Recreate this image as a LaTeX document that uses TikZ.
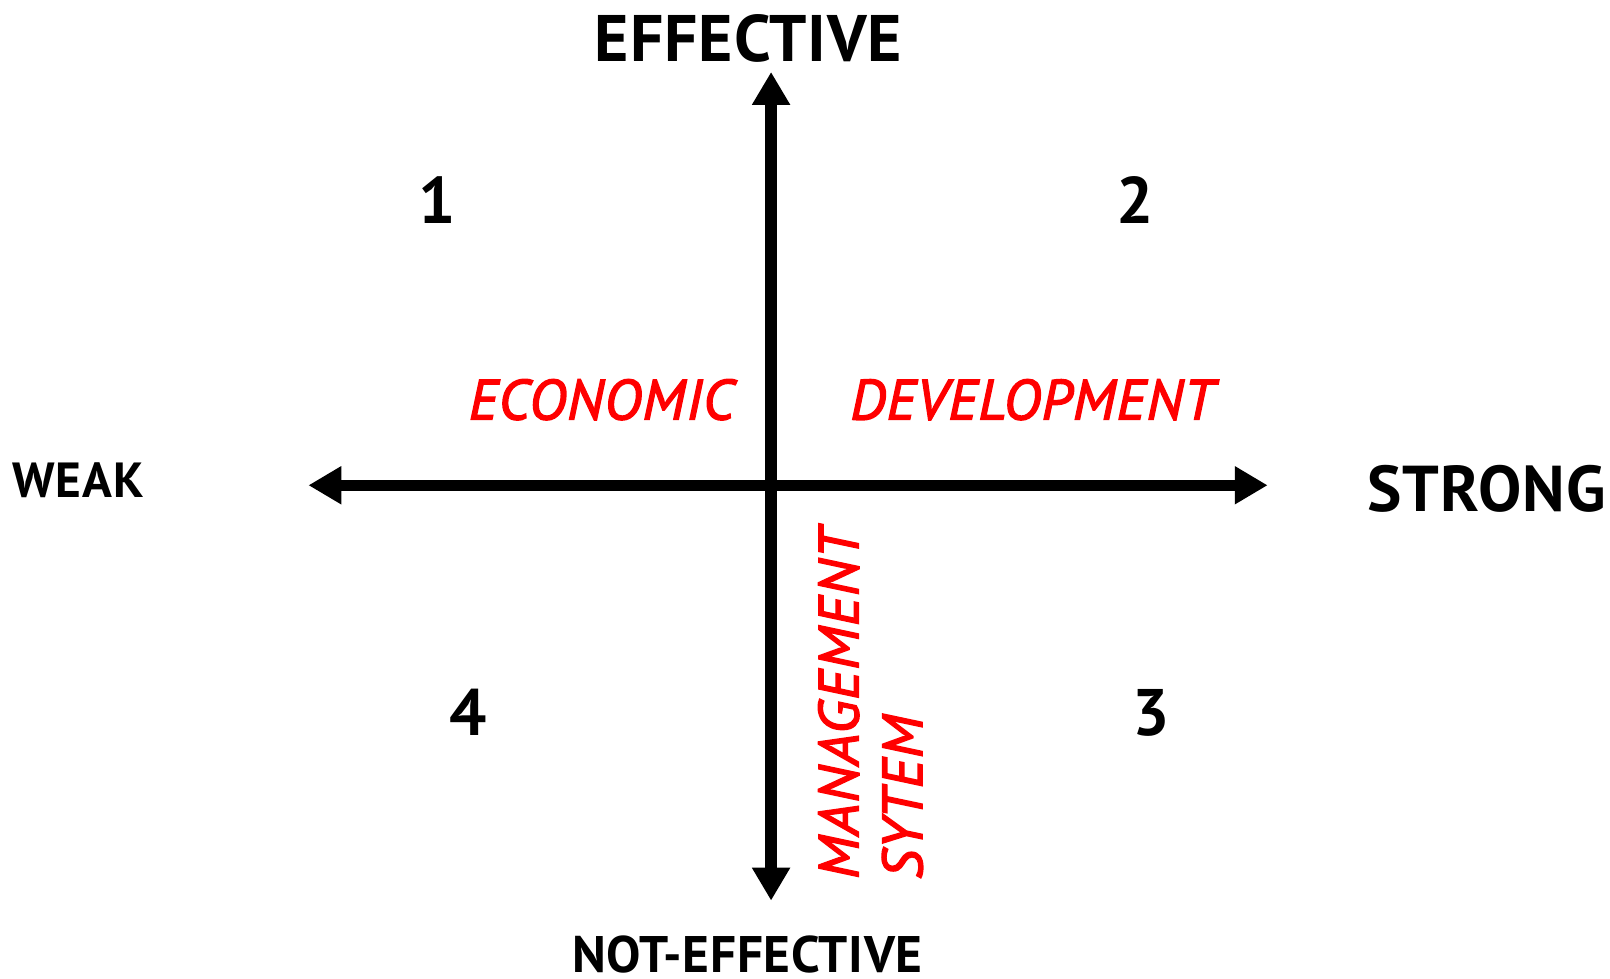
\documentclass[tikz,border=0pt]{standalone}
\usepackage{fontspec}
\setmainfont[LetterSpace=1.5]{PT Sans}
\font\redfnt="PT Sans Italic:embolden=2.5;letterspace=2" at 55pt
\usetikzlibrary{arrows.meta}
\begin{document}
\begin{tikzpicture}[x=1pt,y=-1pt,
  axis/.style={line width=11pt,-{Triangle[length=32pt,width=35pt]}},
  blk/.style={inner sep=0pt,text=black},
  redlbl/.style={inner sep=0pt,text=red,font=\redfnt},
  num/.style={blk,font=\fontsize{64}{70}\selectfont\bfseries}]
\useasboundingbox[fill=white] (0,0) rectangle (1566,952);
\coordinate (c) at (750,472);
\coordinate (top) at (750,70);
\coordinate (bot) at (750,876);
\coordinate (lft) at (300,472);
\coordinate (rgt) at (1233,472);
\draw[axis] (c) -- (top);
\draw[axis] (c) -- (bot);
\draw[axis] (c) -- (lft);
\draw[axis] (c) -- (rgt);
\node[blk,anchor=base,font=\fontsize{64}{70}\selectfont\bfseries] (eff) at (728,60) {EFFECTIVE};
\node[blk,anchor=base,font=\fontsize{50}{56}\selectfont\bfseries] (neff) at (727,946) {NOT-EFFECTIVE};
\node[blk,anchor=base,font=\fontsize{48}{54}\selectfont\bfseries] (weak) at (76,484) {WEAK};
\node[blk,anchor=base west,font=\fontsize{63}{70}\selectfont\bfseries] (strong) at (1330,498) {STRONG};
\node[num,anchor=base] (n1) at (425,217) {1};
\node[num,anchor=base] (n2) at (1104,217) {2};
\node[num,anchor=base] (n3) at (1120,715) {3};
\node[num,anchor=base] (n4) at (455,715) {4};
\node[redlbl,anchor=base] (eco) at (585,408) {ECONOMIC};
\node[redlbl,anchor=base] (dev) at (1004,408) {DEVELOPMENT};
\node[redlbl,anchor=base west,rotate=90] (man) at (835,855) {MANAGEMENT};
\node[redlbl,anchor=base west,rotate=90] (sys) at (897,855) {SYTEM};
\end{tikzpicture}
\end{document}
